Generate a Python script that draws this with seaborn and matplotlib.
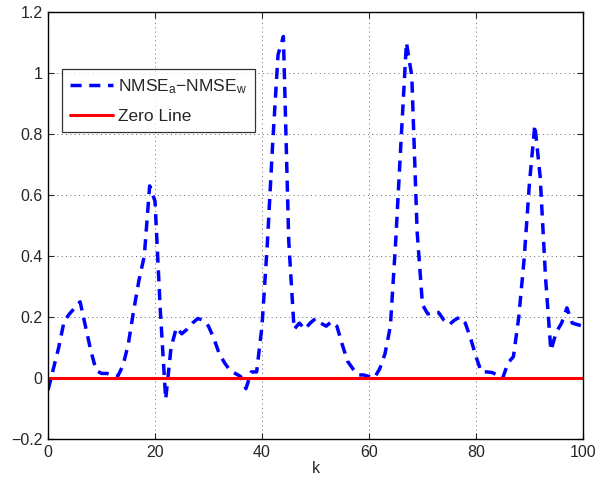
import numpy as np
import pandas as pd
import matplotlib
matplotlib.use('Agg')
import matplotlib.pyplot as plt
import seaborn as sns

# NMSE_a - NMSE_w per time step k
k = np.arange(0, 101)
diff = [
    -0.04, 0.03, 0.10, 0.185, 0.21, 0.23, 0.25, 0.17, 0.09, 0.025,
    0.015, 0.015, 0.01, 0.005, 0.04, 0.11, 0.22, 0.32, 0.40, 0.63,
    0.58, 0.22, -0.07, 0.10, 0.165, 0.145, 0.16, 0.18, 0.195, 0.19,
    0.17, 0.13, 0.08, 0.05, 0.025, 0.015, 0.005, -0.035, 0.02, 0.02,
    0.17, 0.44, 0.77, 1.06, 1.12, 0.45, 0.16, 0.18, 0.16, 0.18,
    0.195, 0.18, 0.17, 0.185, 0.17, 0.11, 0.055, 0.03, 0.01, 0.01,
    0.005, 0.0, 0.03, 0.08, 0.17, 0.45, 0.78, 1.10, 0.99, 0.48,
    0.24, 0.21, 0.215, 0.215, 0.19, 0.175, 0.19, 0.20, 0.18, 0.13,
    0.07, 0.02, 0.02, 0.018, 0.01, 0.0, 0.05, 0.07, 0.20, 0.39,
    0.64, 0.83, 0.66, 0.33, 0.09, 0.15, 0.18, 0.23, 0.18, 0.175,
    0.17,
]
zero = np.zeros(len(k))

df = pd.DataFrame({'k': k, 'diff': diff, 'zero': zero})

sns.set_style("ticks")
plt.rcParams['font.family'] = ['Liberation Sans', 'DejaVu Sans']
plt.rcParams['axes.unicode_minus'] = True
plt.rcParams['mathtext.fontset'] = 'custom'
plt.rcParams['mathtext.rm'] = 'Liberation Sans'
plt.rcParams['mathtext.it'] = 'Liberation Sans'

fig = plt.figure(figsize=(5.97, 4.83), dpi=100)
ax = fig.add_axes([0.0804, 0.0911, 0.8961, 0.8839])

sns.lineplot(data=df, x='k', y='diff', ax=ax, color='#0000ff', linewidth=2.5,
             linestyle='--', dashes=False, label=r'NMSE$_\mathrm{a}$$-$NMSE$_\mathrm{w}$')
ax.lines[0].set_dashes([3.2, 2.2])
sns.lineplot(data=df, x='k', y='zero', ax=ax, color='#ff0000', linewidth=2.2,
             label='Zero Line')

ax.set_xlim(0, 100)
ax.set_ylim(-0.2, 1.2)
ax.set_xticks([0, 20, 40, 60, 80, 100])
yt = [-0.2, 0, 0.2, 0.4, 0.6, 0.8, 1.0, 1.2]
ax.set_yticks(yt)
ax.set_yticklabels(['\u22120.2', '0', '0.2', '0.4', '0.6', '0.8', '1', '1.2'])
ax.set_xlabel('k', fontsize=11.5, labelpad=1)
ax.set_ylabel('')
ax.tick_params(direction='in', top=True, right=True, labelsize=11.5, length=4,
               width=0.8, pad=4)
ax.grid(True, linestyle=(0, (1, 3.5)), color='#666666', linewidth=0.7)
for s in ax.spines.values():
    s.set_linewidth(1.0)
    s.set_color('black')

leg = ax.legend(loc='upper left', bbox_to_anchor=(0.026, 0.866), fontsize=12.5,
                frameon=True, fancybox=False, edgecolor='black',
                handlelength=2.5, borderpad=0.45, labelspacing=0.75,
                handletextpad=0.3, borderaxespad=0)
leg.get_frame().set_linewidth(0.9)

fig.savefig('out.png', dpi=100)
